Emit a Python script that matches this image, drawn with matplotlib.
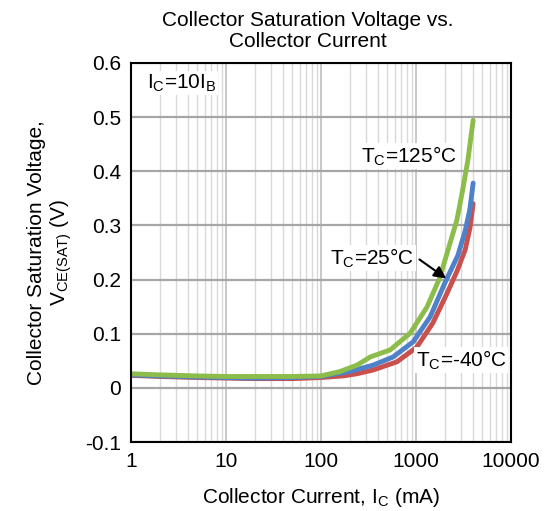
import matplotlib
matplotlib.use("Agg")
import matplotlib.pyplot as plt
from matplotlib.ticker import LogLocator, FixedLocator, NullFormatter

plt.rcParams['font.family'] = ['Liberation Sans', 'DejaVu Sans']
plt.rcParams['mathtext.default'] = 'regular'

# collector current (mA) and VCE(SAT) (V) per case temperature
ic_m40 = [1, 2, 5, 10, 20, 50, 100, 170, 240, 355, 630, 1020, 1510, 2130, 2700, 3300, 3700, 4000]
v_m40 = [0.023, 0.021, 0.019, 0.018, 0.017, 0.017, 0.019, 0.022, 0.026, 0.033, 0.048, 0.075,
         0.120, 0.175, 0.215, 0.255, 0.295, 0.340]

ic_25 = [1, 2, 5, 10, 20, 50, 100, 200, 355, 575, 935, 1410, 2020, 2770, 3300, 3700, 4000]
v_25 = [0.024, 0.022, 0.020, 0.019, 0.018, 0.019, 0.021, 0.030, 0.042, 0.057, 0.085, 0.131,
        0.194, 0.245, 0.290, 0.330, 0.378]

ic_125 = [1, 2, 5, 10, 20, 50, 100, 158, 240, 330, 535, 870, 1306, 1780, 2180, 2700, 3100, 3525, 4000]
v_125 = [0.026, 0.024, 0.022, 0.021, 0.021, 0.021, 0.022, 0.030, 0.042, 0.057, 0.070, 0.101,
         0.149, 0.203, 0.255, 0.310, 0.365, 0.421, 0.494]

yticks = [-0.1, 0, 0.1, 0.2, 0.3, 0.4, 0.5, 0.6]
xticks = [1, 10, 100, 1000, 10000]

fs = 15

fig = plt.figure(figsize=(5.5, 5.11), dpi=100)
ax = fig.add_axes([0.238, 0.135, 0.691, 0.742])

ax.set_xscale('log')
ax.set_xlim(1, 10000)
ax.set_ylim(-0.1, 0.6)

ax.xaxis.set_major_locator(FixedLocator(xticks))
ax.set_xticklabels([str(t) for t in xticks])
ax.xaxis.set_minor_locator(LogLocator(base=10, subs=range(2, 10)))
ax.xaxis.set_minor_formatter(NullFormatter())
ax.set_yticks(yticks)
ax.set_yticklabels(['-0.1', '0', '0.1', '0.2', '0.3', '0.4', '0.5', '0.6'])
ax.tick_params(which='both', length=0, labelsize=fs, pad=7)

ax.grid(True, which='major', axis='y', color='#a6a6a6', lw=1.6)
ax.grid(True, which='major', axis='x', color='#bfbfbf', lw=1.2)
ax.grid(True, which='minor', axis='x', color='#d9d9d9', lw=1.0)
ax.set_axisbelow(True)
for s in ax.spines.values():
    s.set_color('black')
    s.set_linewidth(1.5)

ax.plot(ic_m40, v_m40, color='#c9504d', lw=3.5, solid_capstyle='round', solid_joinstyle='round')
ax.plot(ic_25, v_25, color='#4f81c8', lw=3.5, solid_capstyle='round', solid_joinstyle='round')
ax.plot(ic_125, v_125, color='#8cbc4a', lw=3.5, solid_capstyle='round', solid_joinstyle='round')

box = dict(fc='white', ec='none', pad=1)
ax.text(1.47, 0.563, 'I$_C$=10I$_B$', fontsize=fs, va='center', ha='left', bbox=box)
ax.text(265, 0.428, 'T$_C$=125°C', fontsize=fs, va='center', ha='left', bbox=box)
ax.text(125, 0.24, 'T$_C$=25°C', fontsize=fs, va='center', ha='left', bbox=box)
ax.text(1000, 0.051, 'T$_C$=-40°C', fontsize=fs, va='center', ha='left', bbox=box)
ax.annotate('', xy=(2200, 0.199), xytext=(1030, 0.24),
            arrowprops=dict(arrowstyle='-|>', color='black', lw=1.5, mutation_scale=18))

fig.text(0.56, 0.978, 'Collector Saturation Voltage vs.\nCollector Current',
         ha='center', va='top', fontsize=fs, linespacing=1.15)
ax.set_xlabel('Collector Current, I$_C$ (mA)', fontsize=fs, labelpad=11)
ax.set_ylabel('Collector Saturation Voltage,\nV$_{CE(SAT)}$ (V)', fontsize=fs,
              labelpad=8, linespacing=1.15)

fig.savefig('out.png', dpi=100)
